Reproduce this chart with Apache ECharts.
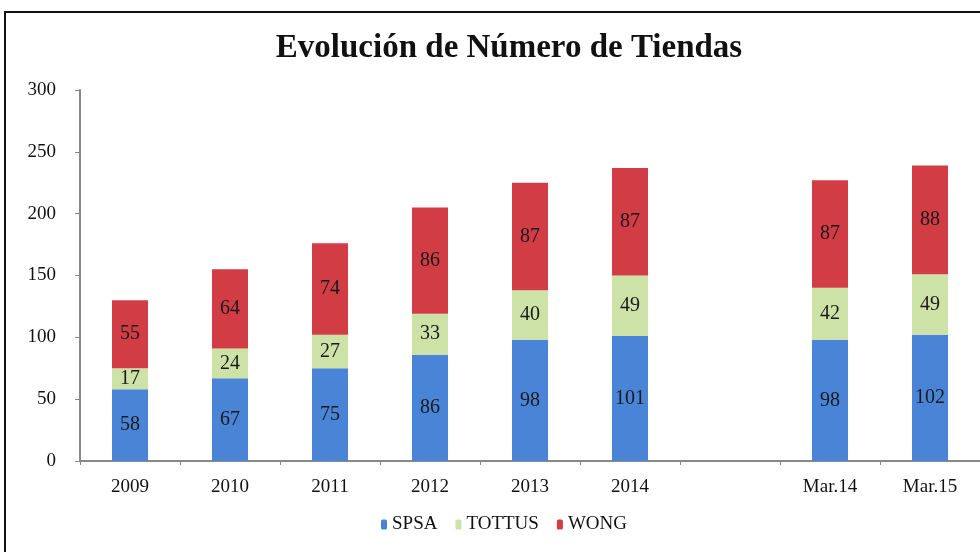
<!DOCTYPE html>
<html lang="es">
<head>
<meta charset="utf-8"/>
<title>Evolución de Número de Tiendas</title>
<script src="https://cdn.jsdelivr.net/npm/echarts@6/dist/echarts.min.js"></script>
<style>
  html, body { margin: 0; padding: 0; background: #fff; overflow: hidden; }
  #frame { position: absolute; left: 4px; top: 11px; width: 1100px; height: 700px;
           border-left: 2px solid #111; border-top: 2px solid #111; }
  #Echarts { position: absolute; left: 0; top: 0; width: 980px; height: 552px; }
</style>
</head>
<body>
<div id="frame"></div>
<div id="Echarts"></div>
<script>
var categorias = ['2009', '2010', '2011', '2012', '2013', '2014', '', 'Mar.14', 'Mar.15'];
var spsa   = [58, 67, 75, 86, 98, 101, '-', 98, 102];
var tottus = [17, 24, 27, 33, 40, 49, '-', 42, 49];
var wong   = [55, 64, 74, 86, 87, 87, '-', 87, 88];

var serif = '"Liberation Serif", "DejaVu Serif", serif';
var etiqueta = {
    show: true,
    position: 'inside',
    fontFamily: serif,
    fontSize: 20,
    color: '#1a1a1a'
};

var myChart = echarts.init(document.getElementById('Echarts'));
myChart.setOption({
    animation: false,
    title: {
        text: 'Evolución de Número de Tiendas',
        left: 504,
        textAlign: 'center',
        top: 27,
        textStyle: { fontFamily: serif, fontWeight: 'bold', fontSize: 33, color: '#111' }
    },
    legend: {
        data: ['SPSA', 'TOTTUS', 'WONG'],
        bottom: 13,
        left: 376,
        itemWidth: 6,
        itemHeight: 10,
        itemGap: 18,
        textStyle: { fontFamily: serif, fontSize: 19, color: '#111' }
    },
    grid: {
        left: 80,
        right: 0,
        top: 90,
        bottom: 91
    },
    xAxis: {
        type: 'category',
        data: categorias,
        axisLine: { lineStyle: { color: '#888', width: 2 } },
        axisTick: { show: true, length: 4, lineStyle: { color: '#888' } },
        axisLabel: { fontFamily: serif, fontSize: 19, color: '#111', margin: 17 }
    },
    yAxis: {
        type: 'value',
        min: 0,
        max: 300,
        interval: 50,
        splitLine: { show: false },
        axisLine: { show: true, lineStyle: { color: '#888', width: 2 } },
        axisTick: { show: true, length: 5, lineStyle: { color: '#888' } },
        axisLabel: { fontFamily: serif, fontSize: 19, color: '#111', margin: 24 }
    },
    series: [
        {
            name: 'SPSA',
            type: 'bar',
            stack: 'total',
            barWidth: '36%',
            data: spsa,
            itemStyle: { color: '#4a84d6' },
            label: etiqueta
        },
        {
            name: 'TOTTUS',
            type: 'bar',
            stack: 'total',
            data: tottus,
            itemStyle: { color: '#cde2a6' },
            label: etiqueta
        },
        {
            name: 'WONG',
            type: 'bar',
            stack: 'total',
            data: wong,
            itemStyle: { color: '#d23c44' },
            label: etiqueta
        }
    ]
});
</script>
</body>
</html>
